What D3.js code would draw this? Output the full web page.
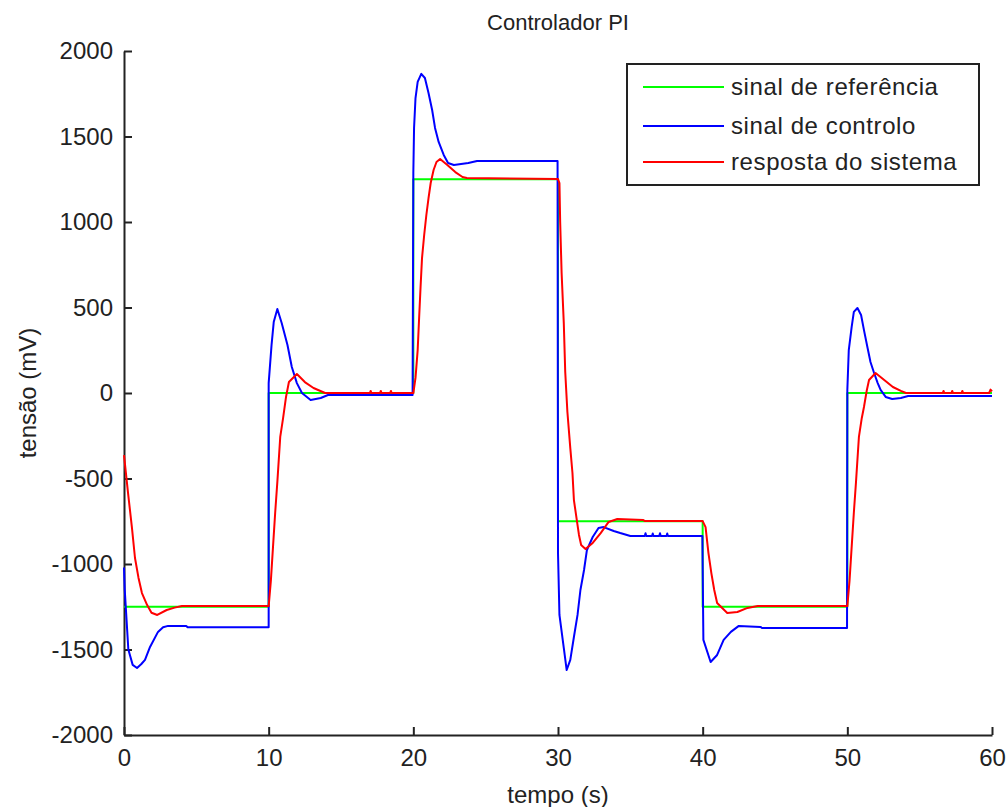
<!DOCTYPE html>
<html>
<head>
<meta charset="utf-8">
<script src="https://cdn.jsdelivr.net/npm/d3@7"></script>
<style>
  body { margin: 0; background: #fff; }
  text { font-family: "Liberation Sans", Arial, sans-serif; fill: #222; }
</style>
</head>
<body>
<div id="chart"></div>
<script>
// reference signal (step)
const refTime  = [0, 10, 10, 20, 20, 30, 30, 40, 40, 50, 50, 60];
const refValue = [-1250, -1250, 0, 0, 1250, 1250, -750, -750, -1250, -1250, 0, 0];

// control signal
const ctrlTime = [0, 0.05, 0.15, 0.3, 0.6, 0.9, 1.2, 1.45, 1.8, 2.35, 2.7, 3.05, 4.3, 4.4, 10,
  10, 10.2, 10.35, 10.6, 10.9, 11.3, 11.6, 11.95, 12.3, 12.9, 13.6, 14.1, 19.95,
  20, 20.05, 20.15, 20.3, 20.55, 20.8, 21.05, 21.3, 21.5, 21.75, 22.1, 22.4, 22.8, 23.8, 24.4, 29.97,
  30, 30.1, 30.4, 30.6, 30.85, 31.1, 31.35, 31.55, 31.8, 32.0, 32.4, 32.8, 33.15, 33.85, 34.3, 35.0,
  36.0, 36.05, 36.1, 36.5, 36.55, 36.6, 37.0, 37.05, 37.1, 37.5, 37.55, 37.6, 39.98,
  40.05, 40.55, 41.0, 41.45, 41.95, 42.5, 44.0, 44.1, 49.98,
  50, 50.1, 50.3, 50.45, 50.7, 50.95, 51.15, 51.4, 51.6, 51.85, 52.1, 52.3, 52.65, 53.1, 53.7, 54.2, 60];
const ctrlValue = [-1020, -1150, -1290, -1500, -1590, -1608, -1585, -1561, -1485, -1397, -1370, -1362, -1362, -1370, -1370,
  58, 281, 415, 491, 409, 281, 152, 58, 0, -41, -29, -12, -12,
  1287, 1550, 1725, 1819, 1866, 1842, 1754, 1655, 1550, 1468, 1392, 1345, 1333, 1345, 1357, 1357,
  -936, -1298, -1491, -1620, -1561, -1427, -1298, -1152, -1035, -918, -842, -789, -784, -807, -819, -836,
  -836, -820, -836, -836, -822, -836, -836, -820, -836, -836, -822, -836, -836,
  -1444, -1573, -1532, -1444, -1397, -1362, -1368, -1374, -1374,
  17, 251, 386, 474, 497, 456, 368, 263, 181, 117, 58, 18, -23, -35, -29, -18, -18];

// system response
const respTime = [0, 0.28, 0.55, 0.76, 1.0, 1.24, 1.6, 1.9, 2.3, 2.95, 3.5, 4.0, 10,
  10.15, 10.3, 10.45, 10.6, 10.8, 11.0, 11.2, 11.4, 11.95, 12.5, 13.1, 13.9,
  17.0, 17.05, 17.1, 17.7, 17.75, 17.8, 18.4, 18.45, 18.5, 20,
  20.15, 20.3, 20.4, 20.5, 20.6, 20.75, 20.9, 21.05, 21.2, 21.4, 21.6, 21.85, 22.35, 22.9, 23.4, 23.7, 30,
  30.1, 30.15, 30.25, 30.4, 30.5, 30.65, 30.85, 31.0, 31.1, 31.3, 31.45, 31.6, 31.9, 32.4, 32.95, 33.5, 34.1, 35.9, 36.0, 40,
  40.2, 40.4, 40.6, 40.8, 41.0, 41.7, 42.4, 43.1, 43.8, 50,
  50.15, 50.3, 50.45, 50.6, 50.8, 51.0, 51.15, 51.35, 51.5, 51.95, 52.55, 53.15, 53.7, 54.05,
  56.6, 56.65, 56.7, 57.2, 57.25, 57.3, 57.9, 57.95, 58.0, 59.8, 59.9, 60];
const respValue = [-363, -585, -789, -965, -1080, -1170, -1240, -1285, -1298, -1269, -1255, -1246, -1246,
  -1100, -900, -700, -520, -257, -146, -23, 64, 111, 64, 29, 0,
  0, 12, 0, 0, 12, 0, 0, 12, 0, 0,
  88, 251, 439, 620, 789, 924, 1041, 1140, 1228, 1304, 1351, 1368, 1333, 1292, 1263, 1257, 1251,
  1228, 1000, 702, 409, 123, -111, -322, -468, -626, -743, -830, -889, -912, -877, -819, -754, -737, -743, -749, -749,
  -784, -936, -1053, -1152, -1228, -1287, -1281, -1257, -1246, -1246,
  -1100, -900, -700, -520, -257, -146, -82, 18, 76, 117, 76, 35, 12, 0,
  0, 12, 0, 0, 12, 0, 0, 12, 0, 0, 20, 10];

const xTicks = [0, 10, 20, 30, 40, 50, 60];
const yTicks = [-2000, -1500, -1000, -500, 0, 500, 1000, 1500, 2000];

const seriesNames = ["sinal de referência", "sinal de controlo", "resposta do sistema"];
const seriesColors = ["#00ff00", "#0000ff", "#ff0000"];

const width = 1008, height = 807;
const margin = { top: 51, right: 16, bottom: 72, left: 124 };
const fontSize = 24;

const svg = d3.select("#chart").append("svg")
  .attr("width", width)
  .attr("height", height);

const x = d3.scaleLinear().domain([0, 60]).range([margin.left, width - margin.right]);
const y = d3.scaleLinear().domain([-2000, 2000]).range([height - margin.bottom, margin.top]);

// axes (ticks pointing inside, no box)
const xAxis = svg.append("g")
  .attr("transform", `translate(0,${height - margin.bottom})`)
  .call(d3.axisBottom(x).tickValues(xTicks).tickSizeInner(-8).tickSizeOuter(0)
    .tickPadding(14).tickFormat(d => String(d)));

const yAxis = svg.append("g")
  .attr("transform", `translate(${margin.left},0)`)
  .call(d3.axisLeft(y).tickValues(yTicks).tickSizeInner(-8).tickSizeOuter(0)
    .tickPadding(11).tickFormat(d => String(d)));

[xAxis, yAxis].forEach(g => {
  g.select(".domain").attr("stroke", "#222").attr("stroke-width", 2);
  g.selectAll(".tick line").attr("stroke", "#222").attr("stroke-width", 2);
  g.selectAll(".tick text")
    .attr("font-family", "Liberation Sans, Arial, sans-serif")
    .attr("font-size", fontSize)
    .attr("fill", "#222");
});

// series
const line = d3.line().x(d => x(d[0])).y(d => y(d[1]));
const series = [
  d3.zip(refTime, refValue),
  d3.zip(ctrlTime, ctrlValue),
  d3.zip(respTime, respValue)
];

svg.append("g").selectAll("path")
  .data(series)
  .join("path")
  .attr("d", line)
  .attr("fill", "none")
  .attr("stroke", (d, i) => seriesColors[i])
  .attr("stroke-width", 2)
  .attr("stroke-linejoin", "round");

// title and labels
svg.append("text")
  .attr("x", (margin.left + width - margin.right) / 2)
  .attr("y", 30)
  .attr("text-anchor", "middle")
  .attr("font-size", 22)
  .text("Controlador PI");

svg.append("text")
  .attr("x", (margin.left + width - margin.right) / 2)
  .attr("y", 803)
  .attr("text-anchor", "middle")
  .attr("font-size", fontSize)
  .text("tempo (s)");

svg.append("text")
  .attr("transform", `translate(36,${y(0)}) rotate(-90)`)
  .attr("text-anchor", "middle")
  .attr("font-size", fontSize)
  .text("tensão (mV)");

// legend
const legend = svg.append("g").attr("transform", "translate(627,64)");
legend.append("rect")
  .attr("width", 352)
  .attr("height", 121)
  .attr("fill", "#fff")
  .attr("stroke", "#222")
  .attr("stroke-width", 2);

const rowY = [23, 62, 98];
const rows = legend.selectAll("g.row")
  .data(seriesNames)
  .join("g")
  .attr("class", "row")
  .attr("transform", (d, i) => `translate(0,${rowY[i]})`);

rows.append("line")
  .attr("x1", 16).attr("x2", 97)
  .attr("stroke", (d, i) => seriesColors[i])
  .attr("stroke-width", 2);

rows.append("text")
  .attr("x", 104)
  .attr("dy", "0.35em")
  .attr("font-size", fontSize)
  .attr("letter-spacing", 0.6)
  .text(d => d);
</script>
</body>
</html>
